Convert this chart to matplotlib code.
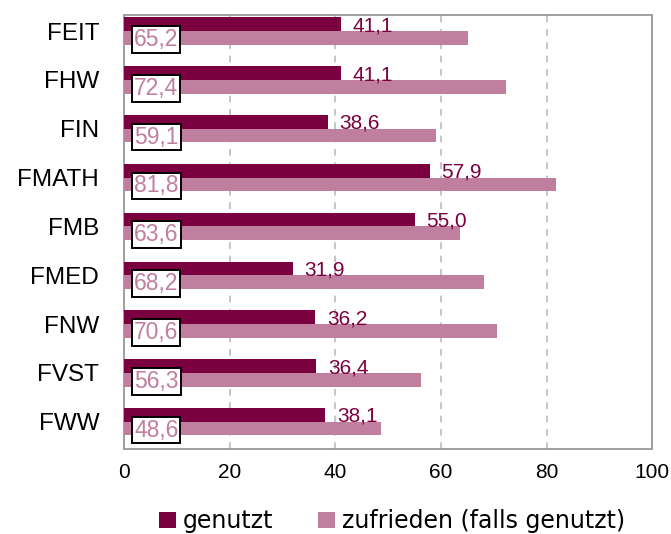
import matplotlib.pyplot as plt
import numpy as np

faculties = ["FEIT", "FHW", "FIN", "FMATH", "FMB", "FMED", "FNW", "FVST", "FWW"]
genutzt = [41.1, 41.1, 38.6, 57.9, 55.0, 31.9, 36.2, 36.4, 38.1]
zufrieden = [65.2, 72.4, 59.1, 81.8, 63.6, 68.2, 70.6, 56.3, 48.6]
xticks = [0, 20, 40, 60, 80, 100]

dark = "#7A0040"
light = "#C07F9E"

fig = plt.figure(figsize=(6.71, 5.34), dpi=100)
ax = fig.add_axes([0.185, 0.159, 0.787, 0.813])

y = np.arange(len(faculties))
h = 0.28
ax.barh(y - h / 2, genutzt, height=h, color=dark, label="genutzt", zorder=3)
ax.barh(y + h / 2, zufrieden, height=h, color=light, label="zufrieden (falls genutzt)", zorder=3)

def fmt(v):
    return f"{v:.1f}".replace(".", ",")

for yi, g, z in zip(y, genutzt, zufrieden):
    ax.text(g + 2.2, yi - h / 2 + 0.03, fmt(g), color=dark, fontsize=15,
            family="Liberation Sans", va="center", ha="left", zorder=4)
    ax.text(1.9, yi + h / 2 + 0.03, fmt(z), color=light, fontsize=16.5,
            family="Liberation Sans", va="center", ha="left", zorder=5,
            bbox=dict(boxstyle="square,pad=0.08", fc="white", ec="black", lw=1.4))

ax.set_xlim(0, 100)
ax.set_ylim(8.56, -0.33)
ax.set_xticks(xticks)
ax.set_xticklabels([str(t) for t in xticks], fontsize=15, family="Liberation Sans")
ax.set_yticks(y)
ax.set_yticklabels(faculties, fontsize=17.5, family="Liberation Sans")
ax.tick_params(axis="both", length=0)
ax.tick_params(axis="x", pad=10)
ax.tick_params(axis="y", pad=18)
ax.xaxis.grid(True, linestyle=(0, (4, 4)), color="#BBBBBB", lw=1.2, zorder=0)
for sp in ax.spines.values():
    sp.set_color("#999999")
    sp.set_linewidth(1.3)

fig.legend(loc="center", bbox_to_anchor=(0.584, 0.024), ncol=2, frameon=False,
           fontsize=17, handlelength=0.72, handleheight=0.72, handletextpad=0.3,
           columnspacing=1.9)

fig.savefig("out.png", dpi=100)
